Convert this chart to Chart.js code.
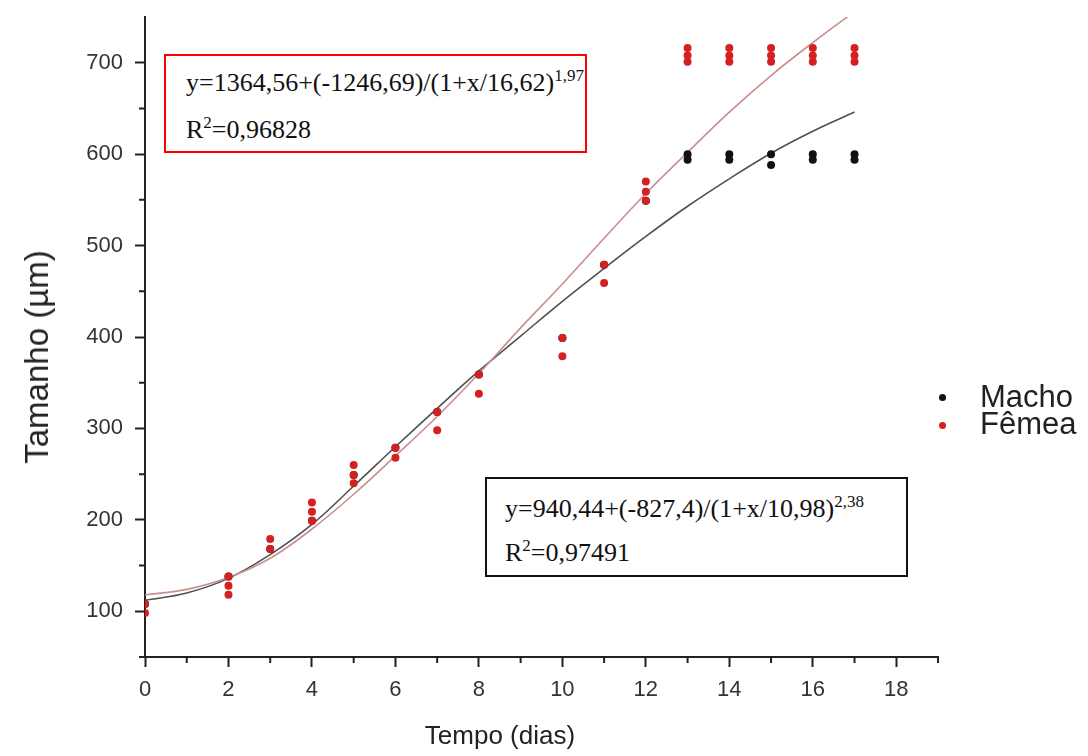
<!DOCTYPE html>
<html>
<head>
<meta charset="utf-8">
<script src="https://cdn.jsdelivr.net/npm/chart.js@4.4.0/dist/chart.umd.min.js"></script>
<style>
  body { margin: 0; background: #fff; }
  #wrap { position: relative; width: 1088px; height: 756px; overflow: hidden; }
  #chart { position: absolute; left: 0; top: 0; }
  .box { position: absolute; box-sizing: border-box; background: #fff; }
  .eq { position: absolute; font-family: "Liberation Serif", "Times New Roman", serif; font-size: 26px; line-height: 26px; color: #111; white-space: nowrap; }
  .eq sup { font-size: 17px; line-height: 0; vertical-align: 10px; }
  .axis-title { position: absolute; font-family: "Liberation Sans", Arial, sans-serif; color: #222; white-space: nowrap; }
  .legend { position: absolute; font-family: "Liberation Sans", Arial, sans-serif; font-size: 31px; color: #222; white-space: nowrap; line-height: 30px; }
  .dot { position: absolute; width: 7px; height: 7px; border-radius: 50%; }
</style>
</head>
<body>
<div id="wrap">
  <canvas id="chart" width="1088" height="756"></canvas>

  <div class="box" style="left:164px; top:54px; width:423px; height:99px; border:2.5px solid #ff0000;"></div>
  <div class="eq" style="left:186px; top:70px;">y=1364,56+(-1246,69)/(1+x/16,62)<sup>1,97</sup></div>
  <div class="eq" style="left:186px; top:117px;">R<sup>2</sup>=0,96828</div>

  <div class="box" style="left:485px; top:477px; width:423px; height:100px; border:2.5px solid #111;"></div>
  <div class="eq" style="left:505px; top:496px;">y=940,44+(-827,4)/(1+x/10,98)<sup>2,38</sup></div>
  <div class="eq" style="left:505px; top:540px;">R<sup>2</sup>=0,97491</div>

  <div class="axis-title" style="font-size:33px; left:37px; top:357px; transform:translate(-50%,-50%) rotate(-90deg);">Tamanho (µm)</div>
  <div class="axis-title" style="font-size:26px; left:500px; top:735px; transform:translate(-50%,-50%);">Tempo (dias)</div>

  <div class="dot" style="left:939px; top:394px; background:#111;"></div>
  <div class="legend" style="left:980px; top:382px;">Macho</div>
  <div class="dot" style="left:939px; top:422px; background:#d42020;"></div>
  <div class="legend" style="left:980px; top:409px;">Fêmea</div>
</div>

<script>
// measured points (dias, µm)
const femeaDays  = [0, 0, 2, 2, 2, 3, 3, 4, 4, 4, 5, 5, 5, 6, 6, 7, 7, 8, 8, 10, 10, 11, 11, 12, 12, 12,
                    13, 13, 13, 14, 14, 14, 15, 15, 15, 16, 16, 16, 17, 17, 17]
const femeaSizes = [108, 98, 138, 128, 118, 179, 168, 219, 209, 199, 260, 249, 240, 279, 268, 318, 298, 359, 338, 399, 379, 479, 459, 570, 559, 549,
                    716, 708, 701, 716, 708, 701, 716, 708, 701, 716, 708, 701, 716, 708, 701]

const machoDays  = [0, 2, 3, 4, 5, 6, 7, 8, 10, 11, 12, 13, 13, 14, 14, 15, 15, 16, 16, 17, 17]
const machoSizes = [108, 138, 168, 199, 249, 279, 318, 359, 399, 479, 549, 600, 594, 600, 594, 600, 588, 600, 594, 600, 594]

// fitted curves at each day
const fitDays  = [0, 1, 2, 3, 4, 5, 6, 7, 8, 9, 10, 11, 12, 13, 14, 15, 16, 17]
const femeaFit = [118, 124, 137, 158, 190, 228, 270, 313, 360, 410, 458, 508, 557, 602, 646, 686, 722, 756]
const machoFit = [112, 120, 136, 162, 195, 237, 280, 322, 363, 401, 439, 475, 510, 543, 573, 601, 625, 646]

const xTicks = [0, 2, 4, 6, 8, 10, 12, 14, 16, 18]
const yTicks = [100, 200, 300, 400, 500, 600, 700]

const toPoints = (xs, ys) => xs.map((x, i) => ({ x: x, y: ys[i] }))

const axisColor = '#222'
const tickFont = { family: 'Liberation Sans', size: 22 }

// shorter minor tick marks, Chart.js only draws one tick length
const minorTicks = {
    id: 'minorTicks',
    afterDraw(chart) {
        const { ctx, scales: { x, y } } = chart
        ctx.save()
        ctx.strokeStyle = axisColor
        ctx.lineWidth = 2
        ctx.beginPath()
        x.ticks.forEach(t => {
            if (!xTicks.includes(t.value)) {
                const px = x.getPixelForValue(t.value)
                ctx.moveTo(px, x.top)
                ctx.lineTo(px, x.top + 6)
            }
        })
        y.ticks.forEach(t => {
            if (!yTicks.includes(t.value) && t.value < 750) {
                const py = y.getPixelForValue(t.value)
                ctx.moveTo(y.right, py)
                ctx.lineTo(y.right - 6, py)
            }
        })
        ctx.stroke()
        ctx.restore()
    }
}

new Chart(document.getElementById('chart'), {
    type: 'scatter',
    data: {
        datasets: [{
            label: 'Fêmea',
            data: toPoints(femeaDays, femeaSizes),
            backgroundColor: '#d42020',
            borderWidth: 0,
            pointRadius: 4,
            order: 1
        }, {
            label: 'Macho',
            data: toPoints(machoDays, machoSizes),
            backgroundColor: '#111',
            borderWidth: 0,
            pointRadius: 4,
            order: 2
        }, {
            label: 'Fêmea ajuste',
            data: toPoints(fitDays, femeaFit),
            showLine: true,
            borderColor: '#c98e8e',
            borderWidth: 1.6,
            pointRadius: 0,
            tension: 0.4,
            order: 3
        }, {
            label: 'Macho ajuste',
            data: toPoints(fitDays, machoFit),
            showLine: true,
            borderColor: '#505050',
            borderWidth: 1.6,
            pointRadius: 0,
            tension: 0.4,
            order: 4
        }]
    },
    options: {
        responsive: false,
        animation: false,
        layout: { padding: { top: 17, right: 150, bottom: 0, left: 0 } },
        plugins: {
            legend: { display: false },
            tooltip: { enabled: false }
        },
        scales: {
            x: {
                type: 'linear',
                min: 0,
                max: 19,
                ticks: {
                    stepSize: 1,
                    autoSkip: false,
                    maxRotation: 0,
                    padding: 10,
                    color: '#333',
                    font: tickFont,
                    callback: v => xTicks.includes(v) ? String(v) : ''
                },
                grid: {
                    drawOnChartArea: false,
                    drawTicks: true,
                    tickLength: 10,
                    tickWidth: 2,
                    tickColor: c => xTicks.includes(c.tick.value) ? axisColor : 'rgba(0,0,0,0)'
                },
                border: { color: axisColor, width: 2 },
                afterFit: s => { s.height = 99; s.paddingLeft = 0; s.paddingRight = 0 }
            },
            y: {
                type: 'linear',
                min: 50,
                max: 750,
                ticks: {
                    stepSize: 50,
                    autoSkip: false,
                    padding: 12,
                    color: '#333',
                    font: tickFont,
                    callback: v => yTicks.includes(v) ? String(v) : ''
                },
                grid: {
                    drawOnChartArea: false,
                    drawTicks: true,
                    tickLength: 10,
                    tickWidth: 2,
                    tickColor: c => yTicks.includes(c.tick.value) ? axisColor : 'rgba(0,0,0,0)'
                },
                border: { color: axisColor, width: 2 },
                afterFit: s => { s.width = 145; s.paddingTop = 0; s.paddingBottom = 0 }
            }
        }
    },
    plugins: [minorTicks]
});
</script>
</body>
</html>
